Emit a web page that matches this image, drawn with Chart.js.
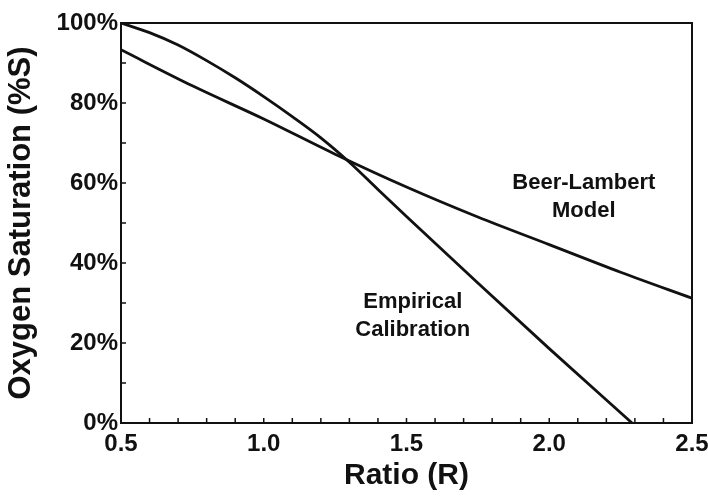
<!DOCTYPE html>
<html>
<head>
<meta charset="utf-8">
<script src="https://cdn.jsdelivr.net/npm/chart.js@4/dist/chart.umd.min.js"></script>
<style>
  html, body { margin: 0; padding: 0; background: #fff; }
  #wrap { width: 708px; height: 498px; }
</style>
</head>
<body>
<div id="wrap"><canvas id="c" width="708" height="498"></canvas></div>
<script>
// Data
const ratioBeerLambert = [0.5, 0.75, 1.0, 1.25, 1.5, 1.75, 2.0, 2.25, 2.5];
const satBeerLambert   = [93.3, 84.3, 76.0, 67.2, 59.0, 51.5, 44.6, 37.7, 31.2];

const ratioEmpirical = [0.5, 0.6, 0.7, 0.8, 0.9, 1.0, 1.1, 1.2, 1.3, 1.4, 1.5, 1.75, 2.0, 2.29];
const satEmpirical   = [100, 97.6, 94.5, 90.6, 86.3, 81.6, 76.6, 71.3, 65.2, 58.4, 51.6, 35.0, 18.6, 0];

const xTickLabels = ['0.5', '1.0', '1.5', '2.0', '2.5'];
const yTickLabels = ['0%', '20%', '40%', '60%', '80%', '100%'];

const seriesNames = ['Beer-Lambert Model', 'Empirical Calibration'];
const curveLabels = [
  { lines: ['Beer-Lambert', 'Model'], r: 2.121, s: [60.0, 53.0] },
  { lines: ['Empirical', 'Calibration'], r: 1.522, s: [30.3, 23.3] }
];

const FONT = "'Liberation Sans', Arial, Helvetica, sans-serif";
const INK = '#111';

function toPoints(xs, ys) { return xs.map((x, i) => ({ x: x, y: ys[i] })); }

const framePlugin = {
  id: 'frame',
  afterDraw(chart) {
    const { ctx, chartArea: a, scales: { x, y } } = chart;
    ctx.save();
    ctx.strokeStyle = INK;
    ctx.lineWidth = 2;
    ctx.strokeRect(a.left, a.top, a.right - a.left, a.bottom - a.top);
    ctx.lineWidth = 1.5;
    ctx.beginPath();
    x.ticks.forEach(t => {
      const px = x.getPixelForValue(t.value);
      ctx.moveTo(px, a.bottom);
      ctx.lineTo(px, a.bottom - 5);
    });
    y.ticks.forEach(t => {
      const py = y.getPixelForValue(t.value);
      ctx.moveTo(a.left, py);
      ctx.lineTo(a.left + 5, py);
    });
    ctx.stroke();
    ctx.fillStyle = INK;
    ctx.font = 'bold 22px ' + FONT;
    ctx.textAlign = 'center';
    ctx.textBaseline = 'middle';
    curveLabels.forEach(l => {
      const px = x.getPixelForValue(l.r);
      l.lines.forEach((txt, i) => {
        ctx.fillText(txt, px, y.getPixelForValue(l.s[i]));
      });
    });
    ctx.restore();
  }
};

const isMultiple = (v, step) => Math.abs(v / step - Math.round(v / step)) < 1e-6;

new Chart(document.getElementById('c'), {
  type: 'scatter',
  data: {
    datasets: [
      {
        label: seriesNames[0],
        data: toPoints(ratioBeerLambert, satBeerLambert),
        showLine: true, pointRadius: 0, borderColor: INK, borderWidth: 2.8,
        cubicInterpolationMode: 'monotone', fill: false
      },
      {
        label: seriesNames[1],
        data: toPoints(ratioEmpirical, satEmpirical),
        showLine: true, pointRadius: 0, borderColor: INK, borderWidth: 2.8,
        cubicInterpolationMode: 'monotone', fill: false
      }
    ]
  },
  options: {
    responsive: false,
    animation: false,
    layout: { padding: { left: 0, right: 0, top: 23, bottom: 0 } },
    plugins: { legend: { display: false }, tooltip: { enabled: false } },
    scales: {
      x: {
        type: 'linear', min: 0.5, max: 2.5,
        grid: { drawOnChartArea: false, drawTicks: false },
        border: { display: true, color: INK, width: 2 },
        ticks: {
          stepSize: 0.1, autoSkip: false, maxRotation: 0, padding: 7,
          color: INK, font: { family: FONT, weight: 'bold', size: 24 },
          callback: v => isMultiple(v, 0.5) ? xTickLabels[Math.round((v - 0.5) / 0.5)] : ''
        },
        title: {
          display: true, text: 'Ratio (R)', color: INK,
          font: { family: FONT, weight: 'bold', size: 30 },
          padding: { top: 0, bottom: 4 }
        },
        afterFit: s => { s.height = 75; s.paddingRight = 16; s.paddingLeft = 0; }
      },
      y: {
        type: 'linear', min: 0, max: 100,
        grid: { drawOnChartArea: false, drawTicks: false },
        border: { display: true, color: INK, width: 2 },
        ticks: {
          stepSize: 10, autoSkip: false, padding: 3,
          color: INK, font: { family: FONT, weight: 'bold', size: 24 },
          callback: v => isMultiple(v, 20) ? yTickLabels[Math.round(v / 20)] : ''
        },
        title: {
          display: true, text: 'Oxygen Saturation (%S)', color: INK,
          font: { family: FONT, weight: 'bold', size: 31 },
          padding: { top: 3, bottom: 0 }
        },
        afterFit: s => { s.width = 121; }
      }
    }
  },
  plugins: [framePlugin]
});
</script>
</body>
</html>
